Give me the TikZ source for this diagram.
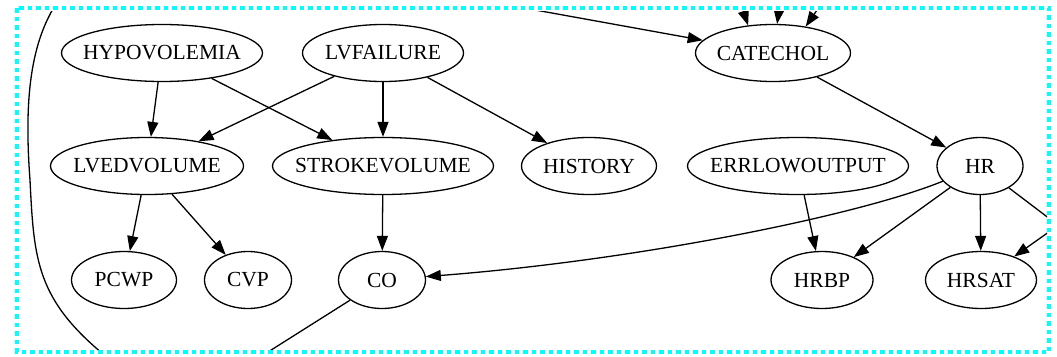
\documentclass[tikz,border=0pt]{standalone}
\usepackage{fontspec}
\setmainfont{Liberation Serif}
\usetikzlibrary{shapes.geometric,arrows.meta}
\definecolor{framecyan}{RGB}{0,255,255}
% zero-width label so the ellipse size comes only from minimum width/height
\newcommand\nlabel[1]{\makebox[0pt]{#1}}
\begin{document}
\begin{tikzpicture}[x=1pt,y=-1pt,
  gnode/.style={ellipse, draw, line width=1.3pt, inner sep=0pt,
                minimum height=57pt, font=\fontsize{21.5}{26}\selectfont},
  link/.style={line width=1.3pt, -{Triangle[length=15pt,width=11pt]}},
  plain/.style={line width=1.3pt},
  frame/.style={draw=framecyan, line width=4.5pt, dash pattern=on 4.5pt off 4pt}]

\fill[white] (0,0) rectangle (1057,356);
\useasboundingbox (0,0) rectangle (1057,356);

\begin{scope}
\clip (19,11) rectangle (1047,350);

% nodes
\node[gnode, minimum width=201pt] (hypo) at (162,53) {\nlabel{HYPOVOLEMIA}};
\node[gnode, minimum width=161pt] (lvf)  at (383,53) {\nlabel{LVFAILURE}};
\node[gnode, minimum width=155pt] (cat)  at (773,53) {\nlabel{CATECHOL}};
\node[gnode, minimum width=193pt] (lved) at (147,166) {\nlabel{LVEDVOLUME}};
\node[gnode, minimum width=221pt] (sv)   at (383,166) {\nlabel{STROKEVOLUME}};
\node[gnode, minimum width=135pt] (hist) at (589,166) {\nlabel{HISTORY}};
\node[gnode, minimum width=221pt] (err)  at (798,166) {\nlabel{ERRLOWOUTPUT}};
\node[gnode, minimum width=86pt]  (hr)   at (980,166) {\nlabel{HR}};
\node[gnode, minimum width=105pt] (pcwp) at (124,280) {\nlabel{PCWP}};
\node[gnode, minimum width=87pt]  (cvp)  at (248,280) {\nlabel{CVP}};
\node[gnode, minimum width=87pt]  (co)   at (382,280) {\nlabel{CO}};
\node[gnode, minimum width=102pt] (hrbp) at (822,280) {\nlabel{HRBP}};
\node[gnode, minimum width=111pt] (hrsat) at (981,280) {\nlabel{HRSAT}};

% free ends of edges running beyond the frame
\coordinate (catIn)  at (480,0);
\coordinate (topA)   at (738,-5);
\coordinate (topB)   at (781,-5);
\coordinate (topC)   at (826,-3);
\coordinate (hrOut)  at (1075,238);
\coordinate (satIn)  at (1070,217);
\coordinate (coOut)  at (249,364);
\coordinate (sideT)  at (60,-2);
\coordinate (sideM)  at (30,180);
\coordinate (sideB)  at (108,358);

% edges
\draw[link] (hypo) -- (lved);
\draw[link] (hypo) -- (sv);
\draw[link] (lvf) -- (lved);
\draw[link] (lvf) -- (sv);
\draw[link] (lvf) -- (hist);
\draw[link] (lved) -- (pcwp);
\draw[link] (lved) -- (cvp);
\draw[link] (sv) -- (co);
\draw[link] (cat) -- (hr);
\draw[link] (err) -- (hrbp);
\draw[link] (hr) -- (hrbp);
\draw[link] (hr) -- (hrsat);
\draw[link] (hr) .. controls (860,215) and (640,260) .. (co);

\draw[link] (catIn) -- (cat);
\draw[link] (topA) -- (cat.132);
\draw[link] (topB) -- (cat.82);
\draw[link] (topC) -- (cat.39);
\draw[plain] (hr) -- (hrOut);
\draw[link] (satIn) -- (hrsat);
\draw[plain] (co) -- (coOut);
\draw[plain] (sideT) .. controls (30,40) and (24,100) .. (sideM)
                     .. controls (34,260) and (36,300) .. (sideB);
\end{scope}

% dotted frame
\draw[frame] (17,8) rectangle (1049,352);
\end{tikzpicture}
\end{document}
